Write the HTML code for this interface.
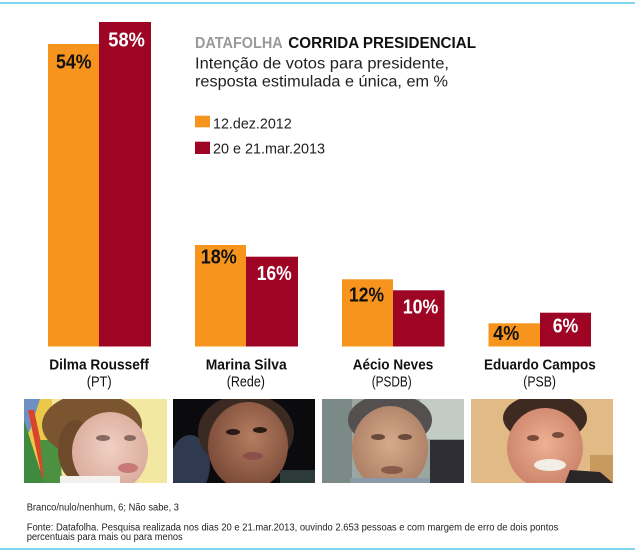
<!DOCTYPE html>
<html>
<head>
<meta charset="utf-8">
<style>
html,body{margin:0;padding:0;background:#fff;}
svg{display:block;}
text{font-family:"Liberation Sans",sans-serif;}
</style>
</head>
<body>
<svg width="635" height="555" viewBox="0 0 635 555" xmlns="http://www.w3.org/2000/svg">
<defs>
<clipPath id="p1"><rect x="24" y="399" width="143" height="84"/></clipPath>
<clipPath id="p2"><rect x="173" y="399" width="142" height="84"/></clipPath>
<clipPath id="p3"><rect x="322" y="399" width="142" height="84"/></clipPath>
<clipPath id="p4"><rect x="471" y="399" width="142" height="84"/></clipPath>
<radialGradient id="f1" cx="0.5" cy="0.45" r="0.6"><stop offset="0" stop-color="#f0d0c4"/><stop offset="1" stop-color="#d8a898"/></radialGradient>
<radialGradient id="f2" cx="0.55" cy="0.4" r="0.6"><stop offset="0" stop-color="#b57d62"/><stop offset="1" stop-color="#7a4a36"/></radialGradient>
<radialGradient id="f3" cx="0.5" cy="0.45" r="0.6"><stop offset="0" stop-color="#d8aa8c"/><stop offset="1" stop-color="#a87a60"/></radialGradient>
<radialGradient id="f4" cx="0.5" cy="0.45" r="0.6"><stop offset="0" stop-color="#eeb092"/><stop offset="1" stop-color="#c98068"/></radialGradient>
</defs>

<!-- top and bottom rules -->
<rect x="0" y="2" width="635" height="2" fill="#80d4ee"/>
<rect x="0" y="548" width="635" height="2" fill="#80d4ee"/>

<!-- bars -->
<g>
<rect x="48" y="44" width="51" height="302.5" fill="#f7941d"/>
<rect x="99" y="22" width="52" height="324.5" fill="#9e0424"/>
<rect x="195" y="245" width="51" height="101.5" fill="#f7941d"/>
<rect x="246" y="256.7" width="52" height="89.8" fill="#9e0424"/>
<rect x="342" y="279.3" width="51" height="67.2" fill="#f7941d"/>
<rect x="393" y="290.3" width="51.5" height="56.2" fill="#9e0424"/>
<rect x="488.5" y="323.3" width="51.5" height="23.2" fill="#f7941d"/>
<rect x="540" y="312.7" width="51" height="33.8" fill="#9e0424"/>
</g>

<!-- bar labels -->
<g font-weight="bold" font-size="20">
<text x="56" y="68.3" textLength="35.5" lengthAdjust="spacingAndGlyphs" fill="#111">54%</text>
<text x="108.3" y="46.7" textLength="36.5" lengthAdjust="spacingAndGlyphs" fill="#fff">58%</text>
<text x="200.7" y="263.3" textLength="36" lengthAdjust="spacingAndGlyphs" fill="#111">18%</text>
<text x="256.7" y="280" textLength="35" lengthAdjust="spacingAndGlyphs" fill="#fff">16%</text>
<text x="349" y="301.7" textLength="35" lengthAdjust="spacingAndGlyphs" fill="#111">12%</text>
<text x="402.7" y="313.3" textLength="35.6" lengthAdjust="spacingAndGlyphs" fill="#fff">10%</text>
<text x="493.3" y="340" textLength="26" lengthAdjust="spacingAndGlyphs" fill="#111">4%</text>
<text x="552.7" y="332.7" textLength="25.6" lengthAdjust="spacingAndGlyphs" fill="#fff">6%</text>
</g>

<!-- title / subtitle -->
<text x="195" y="48" font-size="16" font-weight="bold" fill="#9a9a9a" textLength="87.7" lengthAdjust="spacingAndGlyphs">DATAFOLHA</text>
<text x="288.3" y="48" font-size="16" font-weight="bold" fill="#111" textLength="187.7" lengthAdjust="spacingAndGlyphs">CORRIDA PRESIDENCIAL</text>
<text x="195" y="68.3" font-size="15.5" fill="#222" textLength="254" lengthAdjust="spacingAndGlyphs">Intenção de votos para presidente,</text>
<text x="195" y="86.7" font-size="15.5" fill="#222" textLength="253" lengthAdjust="spacingAndGlyphs">resposta estimulada e única, em %</text>

<!-- legend -->
<rect x="195" y="115.7" width="15" height="11.6" fill="#f7941d"/>
<text x="213" y="128.3" font-size="15" fill="#222" textLength="78.7" lengthAdjust="spacingAndGlyphs">12.dez.2012</text>
<rect x="195" y="141.7" width="15" height="12.3" fill="#9e0424"/>
<text x="213" y="153.3" font-size="15" fill="#222" textLength="112" lengthAdjust="spacingAndGlyphs">20 e 21.mar.2013</text>

<!-- candidate names -->
<g font-size="14.5" fill="#111">
<text x="49.3" y="369.3" font-weight="bold" textLength="99.7" lengthAdjust="spacingAndGlyphs">Dilma Rousseff</text>
<text x="86.7" y="386.7" textLength="25" lengthAdjust="spacingAndGlyphs">(PT)</text>
<text x="205.7" y="369.3" font-weight="bold" textLength="81" lengthAdjust="spacingAndGlyphs">Marina Silva</text>
<text x="226.7" y="386.7" textLength="38.3" lengthAdjust="spacingAndGlyphs">(Rede)</text>
<text x="352.7" y="369.3" font-weight="bold" textLength="80.6" lengthAdjust="spacingAndGlyphs">Aécio Neves</text>
<text x="371.7" y="386.7" textLength="40" lengthAdjust="spacingAndGlyphs">(PSDB)</text>
<text x="484" y="369.3" font-weight="bold" textLength="111.7" lengthAdjust="spacingAndGlyphs">Eduardo Campos</text>
<text x="523.3" y="386.7" textLength="32.7" lengthAdjust="spacingAndGlyphs">(PSB)</text>
</g>

<!-- photo 1: Dilma -->
<g clip-path="url(#p1)">
<rect x="24" y="399" width="143" height="84" fill="#f2e8a2"/>
<rect x="24" y="399" width="28" height="84" fill="#e9c84a"/>
<polygon points="24,399 40,399 30,430 24,440" fill="#6d8fc4"/>
<polygon points="24,420 40,470 50,483 24,483" fill="#3f8a3e"/>
<polygon points="28,410 34,410 48,475 42,478" fill="#d8452c"/>
<polygon points="40,440 60,440 62,483 44,483" fill="#4c9140"/>
<ellipse cx="92" cy="425" rx="50" ry="32" fill="#7a5530"/>
<ellipse cx="76" cy="450" rx="18" ry="30" fill="#6e4a2a"/>
<ellipse cx="110" cy="452" rx="38" ry="40" fill="url(#f1)"/>
<ellipse cx="128" cy="468" rx="10" ry="5" fill="#c87a78"/>
<ellipse cx="103" cy="438" rx="7" ry="3" fill="#8a6a60"/>
<ellipse cx="130" cy="438" rx="6" ry="3" fill="#8a6a60"/>
<rect x="60" y="476" width="60" height="10" fill="#f4f0ee"/>
</g>

<!-- photo 2: Marina -->
<g clip-path="url(#p2)">
<rect x="173" y="399" width="142" height="84" fill="#0b0a0d"/>
<ellipse cx="190" cy="465" rx="20" ry="30" fill="#2f3950"/>
<ellipse cx="246" cy="432" rx="48" ry="38" fill="#3a2a22"/>
<ellipse cx="248" cy="446" rx="40" ry="44" fill="url(#f2)"/>
<ellipse cx="233" cy="432" rx="7" ry="3" fill="#2a1a14"/>
<ellipse cx="260" cy="430" rx="7" ry="3" fill="#2a1a14"/>
<ellipse cx="253" cy="456" rx="10" ry="4" fill="#8c5048"/>
<rect x="280" y="470" width="35" height="13" fill="#2c3a3a"/>
</g>

<!-- photo 3: Aecio -->
<g clip-path="url(#p3)">
<rect x="322" y="399" width="142" height="84" fill="#9aa6a0"/>
<rect x="322" y="399" width="30" height="84" fill="#7b8a86"/>
<rect x="420" y="399" width="44" height="40" fill="#c2cbc6"/>
<rect x="430" y="440" width="34" height="43" fill="#2e2e34"/>
<ellipse cx="390" cy="420" rx="42" ry="26" fill="#545050"/>
<ellipse cx="390" cy="448" rx="38" ry="42" fill="url(#f3)"/>
<ellipse cx="378" cy="437" rx="7" ry="3" fill="#6a4a3a"/>
<ellipse cx="405" cy="437" rx="7" ry="3" fill="#6a4a3a"/>
<ellipse cx="392" cy="470" rx="11" ry="4" fill="#8a5a4a"/>
<rect x="350" y="478" width="80" height="8" fill="#8a9aa6"/>
</g>

<!-- photo 4: Eduardo -->
<g clip-path="url(#p4)">
<rect x="471" y="399" width="142" height="84" fill="#e2ba86"/>
<rect x="590" y="455" width="23" height="28" fill="#c99a5e"/>
<ellipse cx="545" cy="418" rx="42" ry="24" fill="#3e2a20"/>
<ellipse cx="545" cy="448" rx="38" ry="40" fill="url(#f4)"/>
<ellipse cx="533" cy="438" rx="6" ry="3" fill="#7a4a3a"/>
<ellipse cx="558" cy="435" rx="6" ry="3" fill="#7a4a3a"/>
<ellipse cx="550" cy="465" rx="16" ry="6" fill="#f2eee6"/>
<polygon points="570,470 600,472 613,483 565,483" fill="#2a2628"/>
</g>

<!-- footer -->
<g font-size="10" fill="#222">
<text x="26.7" y="510.7" textLength="152.3" lengthAdjust="spacingAndGlyphs">Branco/nulo/nenhum, 6; Não sabe, 3</text>
<text x="26.7" y="530.5" textLength="531.6" lengthAdjust="spacingAndGlyphs">Fonte: Datafolha. Pesquisa realizada nos dias 20 e 21.mar.2013, ouvindo 2.653 pessoas e com margem de erro de dois pontos</text>
<text x="26.7" y="540" textLength="156" lengthAdjust="spacingAndGlyphs">percentuais para mais ou para menos</text>
</g>
</svg>
</body>
</html>
